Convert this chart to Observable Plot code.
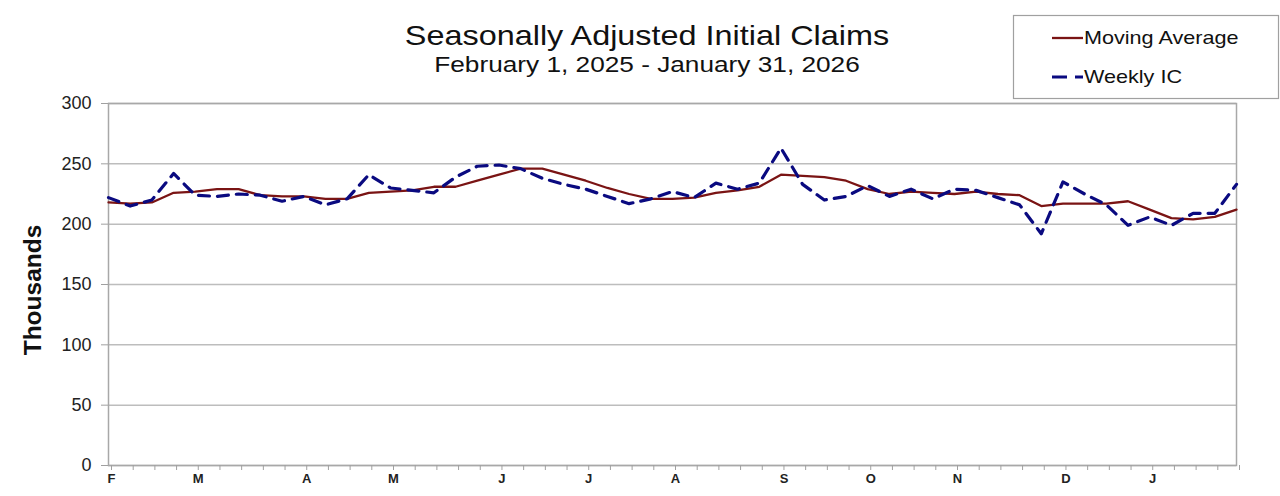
<!DOCTYPE html>
<html>
<head>
<meta charset="utf-8">
<script src="https://cdn.jsdelivr.net/npm/d3@7"></script>
<script src="https://cdn.jsdelivr.net/npm/@observablehq/plot@0.6"></script>
<style>
  html, body { margin: 0; padding: 0; background: #fff; }
  #wrap { position: relative; width: 1280px; height: 496px; overflow: hidden; font-family: "Liberation Sans", Arial, sans-serif; }
  #overlay { position: absolute; left: 0; top: 0; pointer-events: none; }
</style>
</head>
<body>
<div id="wrap"></div>
<script>
// ---- data ----
const weekDates = [
  "2025-02-01","2025-02-08","2025-02-15","2025-02-22",
  "2025-03-01","2025-03-08","2025-03-15","2025-03-22","2025-03-29",
  "2025-04-05","2025-04-12","2025-04-19","2025-04-26",
  "2025-05-03","2025-05-10","2025-05-17","2025-05-24","2025-05-31",
  "2025-06-07","2025-06-14","2025-06-21","2025-06-28",
  "2025-07-05","2025-07-12","2025-07-19","2025-07-26",
  "2025-08-02","2025-08-09","2025-08-16","2025-08-23","2025-08-30",
  "2025-09-06","2025-09-13","2025-09-20","2025-09-27",
  "2025-10-04","2025-10-11","2025-10-18","2025-10-25",
  "2025-11-01","2025-11-08","2025-11-15","2025-11-22","2025-11-29",
  "2025-12-06","2025-12-13","2025-12-20","2025-12-27",
  "2026-01-03","2026-01-10","2026-01-17","2026-01-24","2026-01-31"
];
const weeklyIC = [
  222, 215, 220, 242, 224, 223, 225, 224, 219, 223, 216, 221, 241,
  230, 228, 226, 239, 248, 249, 246, 238, 233, 229, 223, 217, 221,
  227, 222, 234, 229, 234, 263, 233, 220, 223, 232, 223, 229, 221,
  229, 228, 222, 216, 192, 235, 225, 216, 199, 206, 199, 209, 209, 233
];
const movingAverage = [
  218, 217, 218, 226, 227, 229, 229, 224, 223, 223, 221, 221, 226,
  227, 228, 231, 231, 236, 241, 246, 246, 241, 236, 230, 225, 221,
  221, 222, 226, 228, 231, 241, 240, 239, 236, 229, 225, 227, 226,
  225, 227, 225, 224, 215, 217, 217, 217, 219, 212, 205, 204, 206, 212
];
const yTicks = [0, 50, 100, 150, 200, 250, 300];
const monthLetters = ["J","F","M","A","M","J","J","A","S","O","N","D"];
const titleText = "Seasonally Adjusted Initial Claims";
const subtitleText = "February 1, 2025 - January 31, 2026";
const yLabel = "Thousands";
const seriesNames = ["Moving Average", "Weekly IC"];

// ---- build table ----
const parse = d3.utcParse("%Y-%m-%d");
const dates = weekDates.map(parse);
const rows = dates.map((d, i) => ({date: d, ic: weeklyIC[i], ma: movingAverage[i]}));

const chart = Plot.plot({
  width: 1280,
  height: 496,
  marginTop: 103,
  marginBottom: 31,
  marginLeft: 108,
  marginRight: 44,
  style: {fontFamily: "'Liberation Sans', Arial, sans-serif", background: "white", color: "#222"},
  x: {type: "utc", domain: [dates[0], dates[dates.length - 1]]},
  y: {domain: [0, 300]},
  marks: [
    Plot.gridY(yTicks, {stroke: "#bdbdbd", strokeOpacity: 1, strokeWidth: 1.5}),
    Plot.frame({stroke: "#a8a8a8", strokeWidth: 1.5}),
    Plot.axisY(yTicks, {
      tickSize: 7, tickPadding: 10, fontSize: 18, label: null,
      stroke: "#a0a0a0", fill: "#222"
    }),
    Plot.axisX(dates, {
      tickSize: 5, tickPadding: 3, fontSize: 13, fontWeight: "bold", label: null,
      stroke: "#a0a0a0", fill: "#222", dx: 3,
      tickFormat: d => d.getUTCDate() <= 7 ? monthLetters[d.getUTCMonth()] : ""
    }),
    Plot.line(rows, {x: "date", y: "ma", stroke: "#7a1414", strokeWidth: 2.3}),
    Plot.line(rows, {x: "date", y: "ic", stroke: "#0a0a80", strokeWidth: 3.2, strokeDasharray: "11,8"})
  ]
});

const wrap = document.getElementById("wrap");
wrap.appendChild(chart);

// ---- overlay: title, subtitle, y label, legend ----
const ov = d3.select(wrap).append("svg")
  .attr("id", "overlay").attr("width", 1280).attr("height", 496)
  .style("font-family", "'Liberation Sans', Arial, sans-serif");

ov.append("text").attr("transform", "translate(647,45) scale(1.2,1)").attr("text-anchor", "middle")
  .attr("font-size", 27).attr("fill", "#111").text(titleText);
ov.append("text").attr("transform", "translate(647,72) scale(1.22,1)").attr("text-anchor", "middle")
  .attr("font-size", 21.5).attr("fill", "#111").text(subtitleText);
ov.append("text").attr("transform", "translate(41,290) rotate(-90)").attr("text-anchor", "middle")
  .attr("font-size", 24.5).attr("font-weight", "bold").attr("fill", "#111").text(yLabel);

const lg = ov.append("g");
lg.append("rect").attr("x", 1013.5).attr("y", 15.5).attr("width", 265).attr("height", 83)
  .attr("fill", "white").attr("stroke", "#a0a0a0").attr("stroke-width", 1.2);
lg.append("line").attr("x1", 1052).attr("x2", 1083).attr("y1", 38).attr("y2", 38)
  .attr("stroke", "#7a1414").attr("stroke-width", 2.3);
lg.append("text").attr("transform", "translate(1084,44) scale(1.2,1)").attr("font-size", 18)
  .attr("fill", "#111").text(seriesNames[0]);
lg.append("line").attr("x1", 1052).attr("x2", 1083).attr("y1", 77).attr("y2", 77)
  .attr("stroke", "#0a0a80").attr("stroke-width", 3.2).attr("stroke-dasharray", "15,8");
lg.append("text").attr("transform", "translate(1084,83) scale(1.2,1)").attr("font-size", 18)
  .attr("fill", "#111").text(seriesNames[1]);
</script>
</body>
</html>
